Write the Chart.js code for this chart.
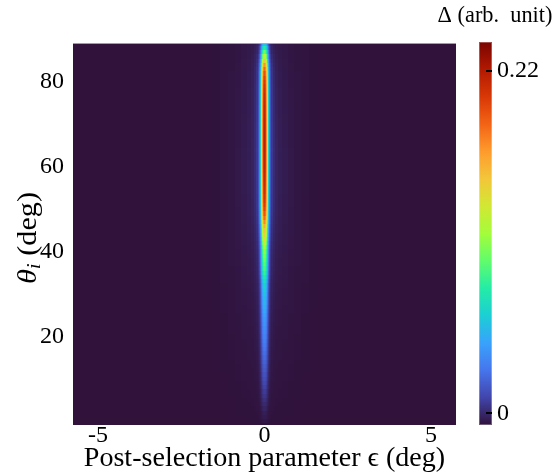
<!DOCTYPE html>
<html>
<head>
<meta charset="utf-8">
<script src="https://cdn.jsdelivr.net/npm/chart.js@4/dist/chart.umd.min.js"></script>
<style>
  html, body { margin: 0; padding: 0; background: #fff; }
  #wrap { width: 555px; height: 472px; }
</style>
</head>
<body>
<div id="wrap"><canvas id="c" width="555" height="472"></canvas></div>
<script>
// Incidence angle rows (deg), one per degree
const thetaRows = [
  0,1,2,3,4,5,6,7,8,9,10,11,12,13,14,15,16,17,18,19,
  20,21,22,23,24,25,26,27,28,29,30,31,32,33,34,35,36,37,38,39,
  40,41,42,43,44,45,46,47,48,49,50,51,52,53,54,55,56,57,58,59,
  60,61,62,63,64,65,66,67,68,69,70,71,72,73,74,75,76,77,78,79,
  80,81,82,83,84,85,86,87,88,89
];

// Ridge height at epsilon = 0 for each row (arb. unit)
const ridgePeak = [
  0.002,0.003,0.004,0.006,0.008,0.010,0.012,0.014,0.016,0.018,
  0.020,0.022,0.024,0.026,0.028,0.030,0.032,0.034,0.036,0.038,
  0.040,0.042,0.044,0.046,0.048,0.050,0.053,0.055,0.058,0.061,
  0.064,0.067,0.070,0.075,0.082,0.090,0.095,0.100,0.105,0.109,
  0.113,0.120,0.130,0.140,0.148,0.155,0.165,0.178,0.188,0.196,
  0.202,0.206,0.209,0.211,0.213,0.214,0.215,0.216,0.217,0.218,
  0.219,0.219,0.220,0.220,0.221,0.221,0.221,0.221,0.221,0.221,
  0.220,0.220,0.219,0.219,0.218,0.217,0.216,0.215,0.213,0.211,
  0.208,0.204,0.198,0.189,0.175,0.155,0.130,0.105,0.085,0.065
];

// Level of the broad faint lobe around the ridge for each row
const haloLevel = [
  0.0002,0.0002,0.0003,0.0003,0.0004,0.0004,0.0005,0.0005,0.0006,0.0006,
  0.0007,0.0007,0.0008,0.0008,0.0009,0.0010,0.0010,0.0011,0.0012,0.0012,
  0.0013,0.0014,0.0014,0.0015,0.0016,0.0016,0.0017,0.0018,0.0019,0.0019,
  0.0020,0.0021,0.0022,0.0023,0.0023,0.0024,0.0025,0.0026,0.0026,0.0027,
  0.0028,0.0029,0.0030,0.0030,0.0031,0.0032,0.0032,0.0033,0.0033,0.0034,
  0.0034,0.0035,0.0035,0.0035,0.0036,0.0036,0.0036,0.0036,0.0036,0.0036,
  0.0036,0.0036,0.0035,0.0035,0.0035,0.0034,0.0034,0.0033,0.0033,0.0032,
  0.0032,0.0031,0.0031,0.0030,0.0030,0.0029,0.0029,0.0028,0.0028,0.0027,
  0.0027,0.0026,0.0026,0.0025,0.0025,0.0024,0.0024,0.0023,0.0023,0.0022
];

// Outer |epsilon| edge (deg) of each column, mirrored about 0
const columnEdges = [0.015,0.045,0.075,0.105,0.135,0.165,0.2,0.25,0.315,0.4,0.525,0.7,0.9,1.1,1.325,1.575,1.85,2.15];
// Relative ridge cross-section per column
const coreShape  = [1.0,0.95,0.8,0.55,0.32,0.17,0.09,0.045,0.025,0.012,0.006,0.003,0.001,0,0,0,0,0];
// Relative lobe cross-section per column
const haloShape  = [1,1,1,0.99,0.98,0.97,0.96,0.95,0.93,0.9,0.85,0.75,0.58,0.4,0.24,0.1,0.04,0];

// Background level away from the ridge
const deltaFloor = -0.0075;

const xTicks = [-5, 0, 5];
const yTicks = [20, 40, 60, 80];
const cbTicks = [0, 0.22];

// Turbo colour map
const turboStops = ['#30123b','#4145ab','#4675ed','#39a2fc','#1bcfd4','#24eca6','#61fc6c',
                    '#a4fc3b','#d1e834','#f3c63a','#fe9b2d','#f36315','#d93806','#b11901','#7a0402'];

const SERIF = "'Liberation Serif', 'Times New Roman', serif";

function hexRgb(h) {
  return [parseInt(h.slice(1,3),16), parseInt(h.slice(3,5),16), parseInt(h.slice(5,7),16)];
}
const turboRgb = turboStops.map(hexRgb);
function turbo(t) {
  t = Math.max(0, Math.min(1, t));
  const p = t * (turboRgb.length - 1);
  const i = Math.min(Math.floor(p), turboRgb.length - 2);
  const f = p - i;
  const a = turboRgb[i], b = turboRgb[i + 1];
  return 'rgb(' + Math.round(a[0] + (b[0]-a[0])*f) + ',' + Math.round(a[1] + (b[1]-a[1])*f) + ',' + Math.round(a[2] + (b[2]-a[2])*f) + ')';
}

// draw a string centred at (cx, cy) with an optional horizontal stretch
function stretchedText(ctx, text, font, cx, cy, sx) {
  ctx.save();
  ctx.font = font;
  ctx.textAlign = 'center';
  ctx.textBaseline = 'middle';
  ctx.translate(cx, cy);
  ctx.scale(sx, 1);
  ctx.fillText(text, 0, 0);
  ctx.restore();
}

const heatmapLayer = {
  id: 'heatmapLayer',
  beforeDatasetsDraw(chart) {
    const { ctx, chartArea: a, scales } = chart;
    const xs = scales.x, ys = scales.y, cb = scales.cb;
    const norm = v => (v - cb.min) / (cb.max - cb.min);

    ctx.save();
    ctx.beginPath();
    ctx.rect(a.left, a.top, a.right - a.left, a.bottom - a.top);
    ctx.clip();
    ctx.fillStyle = turbo(norm(deltaFloor));
    ctx.fillRect(a.left, a.top, a.right - a.left, a.bottom - a.top);

    // signed column list: [lo, hi, shapeIndex]
    const cols = [];
    for (let k = columnEdges.length - 1; k >= 1; k--) cols.push([-columnEdges[k], -columnEdges[k-1], k]);
    cols.push([-columnEdges[0], columnEdges[0], 0]);
    for (let k = 1; k < columnEdges.length; k++) cols.push([columnEdges[k-1], columnEdges[k], k]);

    for (let r = 0; r < thetaRows.length; r++) {
      const yTop = Math.round(ys.getPixelForValue(thetaRows[r] + 0.5));
      const yBot = Math.round(ys.getPixelForValue(thetaRows[r] - 0.5));
      for (const [lo, hi, k] of cols) {
        const xl = Math.round(xs.getPixelForValue(lo));
        const xr = Math.round(xs.getPixelForValue(hi));
        if (xr <= xl) continue;
        const v = deltaFloor + ridgePeak[r] * coreShape[k] + haloLevel[r] * haloShape[k];
        ctx.fillStyle = turbo(norm(v));
        ctx.fillRect(xl, yTop, xr - xl, yBot - yTop);
      }
    }
    ctx.restore();

    // thin light edge along the top of the map
    ctx.save();
    ctx.fillStyle = 'rgba(176,170,186,0.9)';
    ctx.fillRect(a.left, a.top, a.right - a.left, 1);
    ctx.restore();
  },
  afterDraw(chart) {
    const { ctx, chartArea: a, scales } = chart;
    const cb = scales.cb;

    // colour bar
    const barX = cb.left + 23, barW = 13;
    const yLo = cb.bottom, yHi = cb.top - 1;
    const g = ctx.createLinearGradient(0, yLo, 0, yHi);
    turboStops.forEach((c, i) => g.addColorStop(i / (turboStops.length - 1), c));
    ctx.save();
    ctx.fillStyle = g;
    ctx.fillRect(barX, yHi, barW, yLo - yHi);
    ctx.strokeStyle = 'rgba(255,255,255,0.3)';
    ctx.lineWidth = 1;
    ctx.strokeRect(barX + 0.5, yHi + 0.5, barW - 1, yLo - yHi - 1);
    ctx.fillStyle = '#000';
    for (const t of cbTicks) {
      const py = cb.getPixelForValue(t);
      ctx.fillRect(barX + barW - 6, Math.round(py) - 1, 6, 2);
    }
    ctx.restore();

    ctx.fillStyle = '#000';
    // colour bar title
    stretchedText(ctx, '\u0394 (arb.  unit)', '24px ' + SERIF, 495, 16, 0.93);
    // x axis title
    stretchedText(ctx, 'Post-selection parameter \u03F5 (deg)', '27px ' + SERIF, (a.left + a.right) / 2, 459, 1.04);

    // y axis title with subscript
    ctx.save();
    ctx.fillStyle = '#000';
    ctx.translate(29, 238);
    ctx.rotate(-Math.PI / 2);
    ctx.scale(1.12, 1);
    ctx.textBaseline = 'middle';
    const parts = [
      { t: '\u03B8', f: 'italic 27px ' + SERIF, dy: 0 },
      { t: 'i', f: 'italic 19px ' + SERIF, dy: 6 },
      { t: ' (deg)', f: '27px ' + SERIF, dy: 0 }
    ];
    let total = 0;
    for (const p of parts) { ctx.font = p.f; total += ctx.measureText(p.t).width; }
    let cx = -total / 2;
    ctx.textAlign = 'left';
    for (const p of parts) {
      ctx.font = p.f;
      ctx.fillText(p.t, cx, p.dy);
      cx += ctx.measureText(p.t).width;
    }
    ctx.restore();
  }
};

const tickFont = { family: SERIF, size: 24 };

new Chart(document.getElementById('c'), {
  type: 'scatter',
  data: { datasets: [] },
  options: {
    responsive: false,
    animation: false,
    devicePixelRatio: 1,
    layout: { padding: { top: 43, left: 0, right: 0, bottom: 0 } },
    plugins: { legend: { display: false }, tooltip: { enabled: false } },
    scales: {
      x: {
        type: 'linear', position: 'bottom', min: -5.75, max: 5.75,
        afterBuildTicks: s => { s.ticks = xTicks.map(v => ({ value: v })); },
        afterFit: s => { s.height = 47; s.paddingLeft = 0; s.paddingRight = 0; },
        grid: { display: false, drawTicks: false },
        border: { display: false },
        ticks: { padding: -4, color: '#000', font: tickFont, maxRotation: 0,
                 callback: v => (v < 0 ? '-' + Math.abs(v) : String(v)) }
      },
      y: {
        type: 'linear', position: 'left', min: -0.9, max: 89.2,
        afterBuildTicks: s => { s.ticks = yTicks.map(v => ({ value: v })); },
        afterFit: s => { s.width = 73; s.paddingTop = 0; s.paddingBottom = 0; },
        grid: { display: false, drawTicks: false },
        border: { display: false },
        ticks: { padding: 9, color: '#000', font: tickFont, callback: v => String(v) }
      },
      cb: {
        type: 'linear', position: 'right', min: deltaFloor, max: 0.238,
        afterBuildTicks: s => { s.ticks = cbTicks.map(v => ({ value: v })); },
        afterFit: s => { s.width = 99; s.paddingTop = 0; s.paddingBottom = 0; },
        grid: { display: false, drawTicks: false },
        border: { display: false },
        ticks: { padding: 41, color: '#000', font: tickFont,
                 callback: v => (v === 0 ? '0' : v.toFixed(2)) }
      }
    }
  },
  plugins: [heatmapLayer]
});
</script>
</body>
</html>
